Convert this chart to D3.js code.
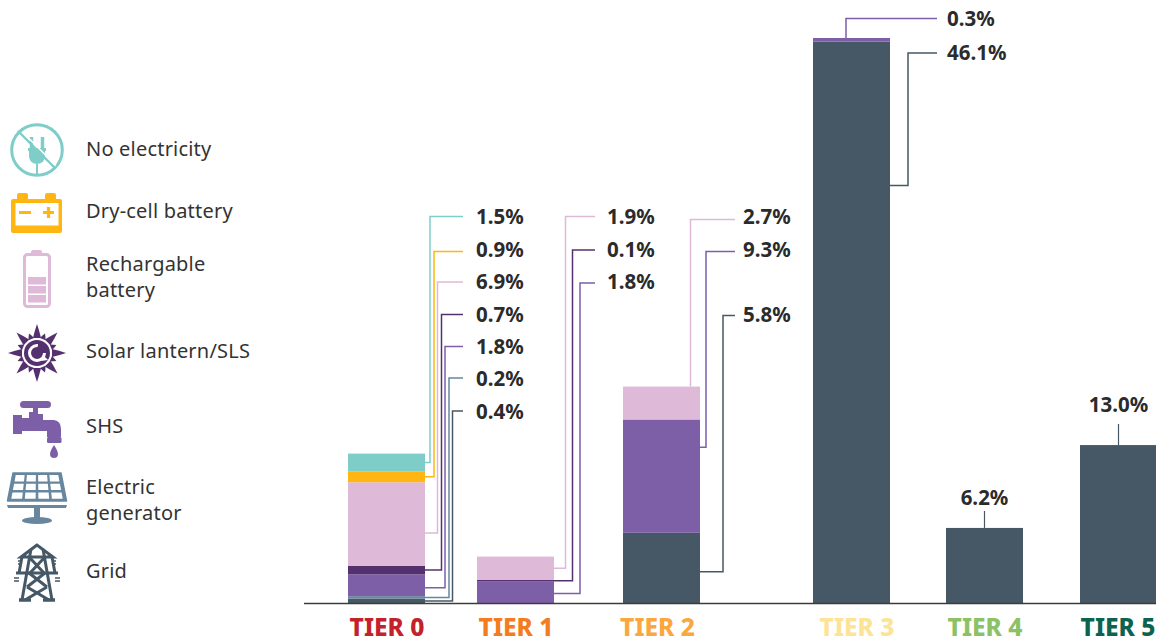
<!DOCTYPE html>
<html><head><meta charset="utf-8">
<script src="https://cdn.jsdelivr.net/npm/d3@7/dist/d3.min.js"></script>
<style>html,body{margin:0;background:#fff;overflow:hidden}svg{display:block}</style></head>
<body><svg id="c" width="1156" height="641"></svg>
<script>
const tiers = ["TIER 0","TIER 1","TIER 2","TIER 3","TIER 4","TIER 5"];
const tierColors = ["#c4222b","#f47c20","#f9a73e","#fde396","#8dc165","#0b6350"];
const tierLabelShift = [0,0,-4.5,5,0,-1];
const sources = ["grid","generator","shs","solar","recharge","dry","none"];
const sourceNames = ["Grid",["Electric","generator"],"SHS","Solar lantern/SLS",["Rechargable","battery"],"Dry-cell battery","No electricity"];
const sourceColors = ["#465866","#66879f","#7d5fa8","#55306f","#dfbad8","#ffb612","#7fcdc9"];
const grid      = [0.4, 0,    5.8, 46.1, 6.2, 13.0];
const generator = [0.2, 0,    0,   0,    0,   0];
const shs       = [1.8, 1.8,  9.3, 0.3,  0,   0];
const solar     = [0.7, 0.15, 0,   0,    0,   0];
const recharge  = [6.85,1.9,  2.7, 0,    0,   0];
const dry       = [0.9, 0,    0,   0,    0,   0];
const none      = [1.45,0,    0,   0,    0,   0];
const seriesValues = {grid,generator,shs,solar,recharge,dry,none};
const tierLabels = {
  "TIER 0":[["none","1.5%"],["dry","0.9%"],["recharge","6.9%"],["solar","0.7%"],["shs","1.8%"],["generator","0.2%"],["grid","0.4%"]],
  "TIER 1":[["recharge","1.9%"],["solar","0.1%"],["shs","1.8%"]],
  "TIER 2":[["recharge","2.7%"],["shs","9.3%"],["grid","5.8%"]],
  "TIER 3":[["shs","0.3%"],["grid","46.1%"]],
  "TIER 4":[["grid","6.2%"]],
  "TIER 5":[["grid","13.0%"]]
};
// layout of the call-outs (pixels): vertical run x, label y, end of the stub, text x, shift from the segment middle
const routes = {
  "TIER 0":{end:463,tx:476,r:[[430,216.5,0],[434,251.5,0],[437.5,282,9],[441.5,314.5,0],[445,346.5,2.5],[449,378,0],[452.5,411,0]],ly:[217,250,282,315,347,379,412]},
  "TIER 1":{end:595,tx:607,r:[[565.5,216.5,0],[572.5,250,0],[580,283,1]],ly:[217,250,282]},
  "TIER 2":{end:735,tx:743,r:[[690.5,219.5,"top"],[706,251.5,-29],[723,315.5,3.5]],ly:[217,250,315]},
  "TIER 3":{end:937,tx:947,r:[[846,18.5,"top"],[908,53,-137]],ly:[19,53]}
};
const tops = {"TIER 4":[511,498],"TIER 5":[424,405]};

const FONT = "'Noto Sans',sans-serif";
const svg = d3.select("#c");
const y = d3.scaleLinear().domain([0,46.4]).range([603.5,38]);
const barW = 77;
const xLeft = d3.scaleOrdinal(tiers,[348,477,623,813,946,1080]);
const xCenter = d3.scaleOrdinal(tiers,tiers.map(t=>xLeft(t)+barW/2));
const color = d3.scaleOrdinal(sources,sourceColors);

const rows = tiers.map((t,i)=>{const o={tier:t};sources.forEach(s=>o[s]=seriesValues[s][i]);return o;});
const stacked = d3.stack().keys(sources)(rows);
const seg = {};
stacked.forEach(l=>{seg[l.key]={};l.forEach(d=>seg[l.key][d.data.tier]=d);});

svg.append("g").selectAll("g").data(stacked).join("g").attr("fill",d=>color(d.key))
  .selectAll("rect").data(d=>d.filter(p=>p[1]>p[0])).join("rect")
  .attr("x",d=>xLeft(d.data.tier)).attr("width",barW)
  .attr("y",d=>y(d[1])).attr("height",d=>y(d[0])-y(d[1]));

// baseline and tier labels
svg.append("line").attr("x1",304).attr("x2",1156).attr("y1",y(0)).attr("y2",y(0)).attr("stroke","#3c3c3c").attr("stroke-width",1.4);
const ax = svg.append("g").attr("transform",`translate(0,${y(0)})`).call(d3.axisBottom(xCenter).tickSize(0).tickPadding(15.5));
ax.select(".domain").remove();
ax.selectAll("text").attr("fill",d=>tierColors[tiers.indexOf(d)])
  .attr("dx",d=>tierLabelShift[tiers.indexOf(d)])
  .attr("font-family",FONT).attr("font-weight",800).attr("font-size",24.5);

// call-outs
const line = d3.line();
const lab = svg.append("g");
const addLabel=(x,yy,t,anchor)=>lab.append("text").attr("x",x).attr("y",yy).attr("dy","0.36em")
  .attr("text-anchor",anchor||"start").attr("font-family",FONT).attr("font-weight",700)
  .attr("font-size",20.5).attr("fill","#2b2b2b").text(t);
Object.keys(routes).forEach(t=>{
  const R=routes[t], L=tierLabels[t], right=xLeft(t)+barW;
  L.forEach(([s,txt],i)=>{
    const [vx,ly,shift]=R.r[i], d=seg[s][t];
    const pts = shift==="top"
      ? [[vx,y(d[1])],[vx,ly],[R.end,ly]]
      : (()=>{const ay=(y(d[0])+y(d[1]))/2+shift;return [[right,ay],[vx,ay],[vx,ly],[R.end,ly]];})();
    svg.append("path").attr("d",line(pts)).attr("fill","none").attr("stroke",color(s)).attr("stroke-width",1.5);
    addLabel(R.tx,R.ly[i],txt);
  });
});
Object.keys(tops).forEach(t=>{
  const [ty,ly]=tops[t], d=seg.grid[t], c=xCenter(t);
  svg.append("line").attr("x1",c).attr("x2",c).attr("y1",y(d[1])).attr("y2",ty).attr("stroke",color("grid")).attr("stroke-width",1.2);
  addLabel(c,ly,tierLabels[t][0][1],"middle");
});

// legend texts
const legendY = {none:149,dry:211,recharge:[264,290],solar:351,shs:426,generator:[487,513],grid:571};
const lg = svg.append("g").attr("font-family",FONT).attr("font-size",20).attr("letter-spacing",0.2).attr("fill","#333");
sources.forEach((s,i)=>{
  const n=sourceNames[i], ys=legendY[s];
  [].concat(n).forEach((tx,j)=>lg.append("text").attr("x",86).attr("y",[].concat(ys)[j]).attr("dy","0.36em").text(tx));
});

// legend icons
const ic = svg.append("g");
// no electricity
(()=>{const c=color("none"),g=ic.append("g");
 g.append("circle").attr("cx",37).attr("cy",150).attr("r",25.3).attr("fill","none").attr("stroke",c).attr("stroke-width",3);
 g.append("path").attr("d","M31.5 137v12M42.5 137v12").attr("stroke",c).attr("stroke-width",3.5);
 g.append("path").attr("d","M28 148h18v3h-1v5q0 7-8 8q-8-1-8-8v-5h-1z").attr("fill",c);
 g.append("path").attr("d","M37 164v10").attr("stroke",c).attr("stroke-width",2);
 g.append("path").attr("d","M18 131L55 168").attr("stroke",c).attr("stroke-width",2.4);
 g.append("path").attr("d","M23 132.5L56 165.5").attr("stroke","#fff").attr("stroke-width",1.6);
})();
// dry-cell
(()=>{const c=color("dry"),g=ic.append("g");
 g.append("path").attr("d","M17 199v-4q0-2 2-2h7q2 0 2 2v4h17v-4q0-2 2-2h7q2 0 2 2v4h4q2 0 2 2v30q0 2-2 2H13q-2 0-2-2V201q0-2 2-2z").attr("fill",c);
 g.append("rect").attr("x",15.5).attr("y",203).attr("width",43).attr("height",22.5).attr("fill","#fff");
 g.append("path").attr("d","M19 212.5h12M43 212.5h11M48.5 207v11").attr("stroke",c).attr("stroke-width",3.2).attr("fill","none");
})();
// rechargeable
(()=>{const c=color("recharge"),g=ic.append("g");
 g.append("rect").attr("x",31).attr("y",250).attr("width",11).attr("height",6).attr("rx",2).attr("fill",c);
 g.append("rect").attr("x",24.5).attr("y",254.5).attr("width",25).attr("height",52).attr("rx",3).attr("fill","#fff").attr("stroke",c).attr("stroke-width",3);
 g.selectAll("rect.b").data([277,286,295]).join("rect").attr("x",28).attr("width",18).attr("y",d=>d).attr("height",7.5).attr("fill",c);
})();
// solar
(()=>{const c=color("solar"),g=ic.append("g").attr("transform","translate(37,353)");
 g.selectAll("path.s").data(d3.range(16)).join("path")
  .attr("d",i=>{const big=i%2===0,l=big?29:(21),w=big?4:3,b=15;return `M${-w} ${-b}Q${-w*.6} ${-(b+l)/2} 0 ${-l}Q${w*.6} ${-(b+l)/2} ${w} ${-b}z`;})
  .attr("transform",i=>`rotate(${i*22.5})`).attr("fill",c);
 g.append("circle").attr("r",13).attr("fill",c);
 g.append("circle").attr("r",7.5).attr("fill","none").attr("stroke","#fff").attr("stroke-width",3).attr("stroke-dasharray","36 11");
 g.append("path").attr("d","M6 2l5 5l-7 1z").attr("fill","#fff");
})();
// shs tap
(()=>{const c=color("shs"),g=ic.append("g");
 g.append("rect").attr("x",20).attr("y",401).attr("width",31).attr("height",7).attr("rx",3.5).attr("fill",c);
 g.append("path").attr("d","M33 404h5v10h5v6h11q7 1 7 9v8h-14v-6H22v3h-9v-19h9v3h7v-6h4z").attr("fill",c);
 g.append("rect").attr("x",47).attr("y",437).attr("width",14.5).attr("height",6).attr("rx",1.5).attr("fill",c);
 g.append("path").attr("d","M54 445q4 6 4 9a4 4 0 0 1-8 0q0-3 4-9z").attr("fill",c);
})();
// generator (panel)
(()=>{const c=color("generator"),g=ic.append("g");
 g.append("path").attr("d","M13 473H61L66.5 501H7.5z").attr("fill",c).attr("stroke",c).attr("stroke-width",1.5).attr("stroke-linejoin","round");
 const cols=d3.scaleLinear().domain([0,4]);
 d3.range(3).forEach(r=>d3.range(4).forEach(k=>{
   const yt=475+r*8.7,yb=yt+6.4;
   const xAt=(f,yy)=>{const t=(yy-473)/28,l=13-5.5*t,rr=61+5.5*t;return cols.range([l+2,rr-2])(f);};
   g.append("path").attr("d",`M${xAt(k+.1,yt)} ${yt}L${xAt(k+.9,yt)} ${yt}L${xAt(k+.9,yb)} ${yb}L${xAt(k+.1,yb)} ${yb}z`).attr("fill","#fff");
 }));
 g.append("path").attr("d","M7 505H67L66 508H8z").attr("fill",c);
 g.append("rect").attr("x",34).attr("y",508).attr("width",6).attr("height",10).attr("fill",c);
 g.append("ellipse").attr("cx",37).attr("cy",520.5).attr("rx",15).attr("ry",3.6).attr("fill",c);
})();
// grid pylon
(()=>{const c=color("grid"),g=ic.append("g").attr("fill","none").attr("stroke",c).attr("stroke-width",3);
 g.append("path").attr("d","M37 545L21 557H53ZM16 573H58M22 557L19 573M52 557L55 573");
 g.append("path").attr("d","M31 549L22 600M43 549L52 600M30 558L44 573M44 558L30 573M29 573L47 587M45 573L27 587M27 587L49 600M47 587L25 600");
 g.append("path").attr("d","M19 600H31M43 600H55").attr("stroke-width",3.5);
 g.append("path").attr("d","M18 561h4M18 564h4M52 561h4M52 564h4M14 578h5M14 581h5M55 578h5M55 581h5").attr("stroke-width",1.6);
})();
</script></body></html>
